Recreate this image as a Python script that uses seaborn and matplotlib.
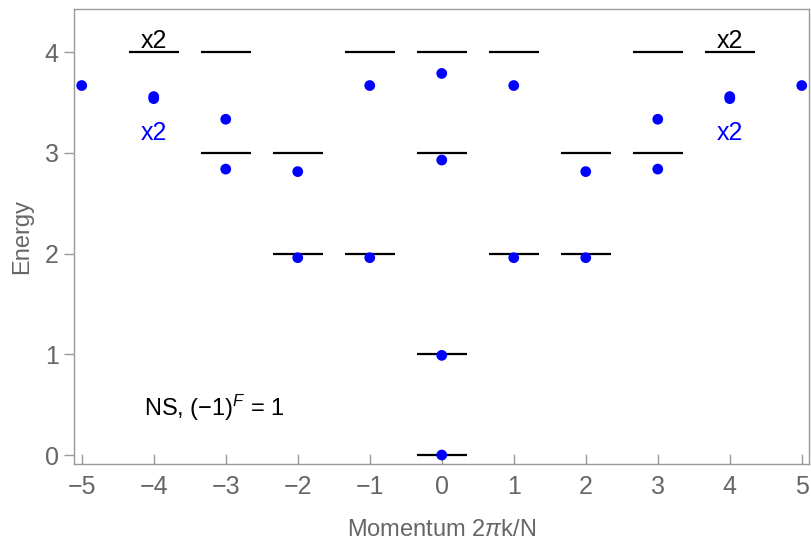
"""Energy spectrum vs momentum: exact levels (black) and numerics (blue)."""

import matplotlib

matplotlib.use("Agg")

import matplotlib.pyplot as plt
import pandas as pd
import seaborn as sns

# exact (CFT) levels, one segment per entry
level_k = [-4, -3, -3, -2, -2, -1, -1, 0, 0, 0, 0, 1, 1, 2, 2, 3, 3, 4]
level_e = [4, 4, 3, 3, 2, 4, 2, 4, 3, 1, 0, 4, 2, 3, 2, 4, 3, 4]

# numerical spectrum
point_k = [-5, -4, -4, -3, -3, -2, -2, -1, -1, 0, 0, 0, 0, 1, 1, 2, 2, 3, 3, 4, 4, 5]
point_e = [3.67, 3.54, 3.56, 3.335, 2.84, 2.815, 1.96, 3.67, 1.96, 3.79, 2.93, 0.99, 0.0,
           3.67, 1.96, 2.815, 1.96, 3.335, 2.84, 3.54, 3.56, 3.67]

x_ticks = [-5, -4, -3, -2, -1, 0, 1, 2, 3, 4, 5]
y_ticks = [0, 1, 2, 3, 4]

HALF_WIDTH = 0.35
GRAY = "#666666"
BLUE = "#0000ff"


def main():
    sns.set_theme(style="white")
    plt.rcParams["font.family"] = ["Liberation Sans", "DejaVu Sans"]
    plt.rcParams["mathtext.fontset"] = "custom"
    plt.rcParams["mathtext.rm"] = "Liberation Sans"
    plt.rcParams["mathtext.it"] = "Liberation Sans:italic"

    levels = pd.DataFrame({"k": level_k, "energy": level_e})
    points = pd.DataFrame({"k": point_k, "energy": point_e})

    fig, ax = plt.subplots(figsize=(8.11, 5.46), dpi=100)
    fig.subplots_adjust(left=0.091, right=0.9975, top=0.9835, bottom=0.15)

    ax.hlines(levels["energy"], levels["k"] - HALF_WIDTH, levels["k"] + HALF_WIDTH,
              color="black", linewidth=1.6, zorder=2)
    sns.scatterplot(data=points, x="k", y="energy", ax=ax, color=BLUE, s=60,
                    edgecolor="none", zorder=3, legend=False)

    for k in (-4, 4):
        ax.text(k, 3.99, "x2", color="black", fontsize=18, ha="center", va="bottom")
        ax.text(k, 3.2, "x2", color=BLUE, fontsize=18, ha="center", va="center")
    ax.text(-4.13, 0.47, "NS, (\u22121)$^{F}$ = 1", color="black", fontsize=17,
            ha="left", va="center")

    ax.set_xlim(-5.11, 5.1)
    ax.set_ylim(-0.09, 4.43)
    ax.set_xticks(x_ticks)
    ax.set_yticks(y_ticks)
    ax.set_xticklabels([str(v).replace("-", "\u2212") for v in x_ticks])
    ax.set_xlabel("Momentum 2$\\pi$k/N", fontsize=17, color=GRAY, labelpad=14)
    ax.set_ylabel("Energy", fontsize=17, color=GRAY, labelpad=8)

    for spine in ax.spines.values():
        spine.set_color("#999999")
        spine.set_linewidth(1.0)
    ax.tick_params(axis="x", direction="in", length=7, width=1, colors="#999999",
                   labelcolor=GRAY, labelsize=18, pad=8, bottom=True)
    ax.tick_params(axis="y", direction="out", length=7, width=1, colors="#999999",
                   labelcolor=GRAY, labelsize=18, pad=4, left=True)

    fig.savefig("out.png", dpi=100)
    plt.close(fig)


if __name__ == "__main__":
    main()
